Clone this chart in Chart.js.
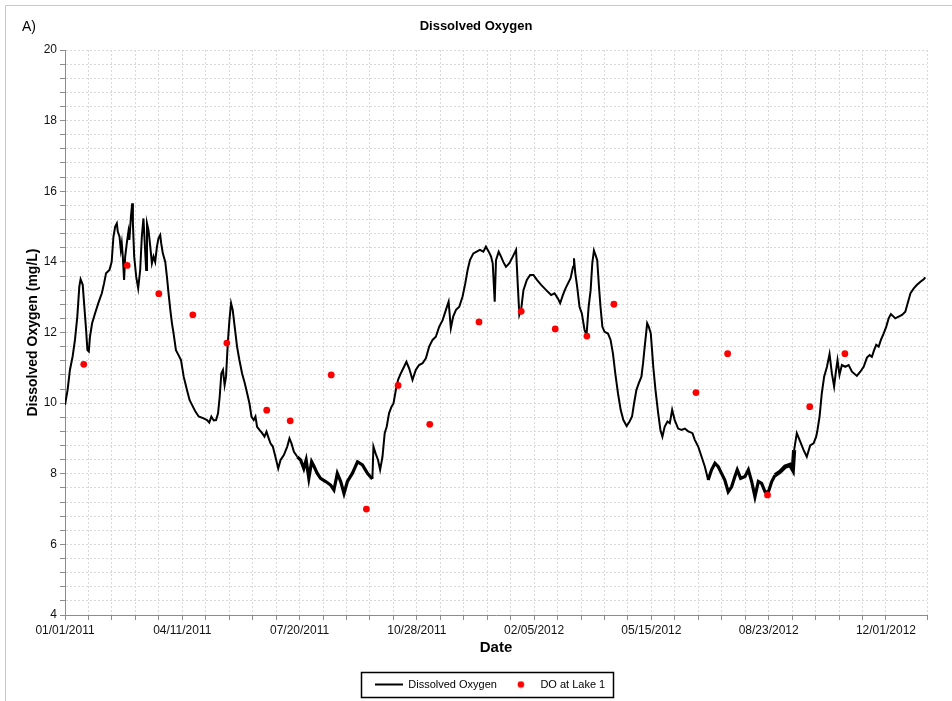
<!DOCTYPE html>
<html>
<head>
<meta charset="utf-8">
<script src="https://cdn.jsdelivr.net/npm/chart.js@4.4.0/dist/chart.umd.min.js"></script>
<style>
html,body{margin:0;padding:0;background:#fff;}
#wrap{width:952px;height:701px;position:relative;}
canvas{display:block;}
</style>
</head>
<body>
<div id="wrap"><canvas id="c" width="952" height="701"></canvas></div>
<script>
// ---- data ----
const START_DATE = Date.UTC(2011, 0, 1);   // day 0 of the x axis
// continuous logger record: day offset from 01/01/2011, dissolved oxygen (mg/L)
const lineDay = [0,2.2,4.2,6.5,8.5,10.5,12.2,13.3,15.1,16.5,18.0,19.1,20.3,21.3,23.1,25.6,28.4,31.4,33.3,35.0,37.9,39.8,41.3,42.8,44.2,45.0,46.5,47.6,48.4,49.3,50.4,51.3,52.7,54.1,54.9,56.2,57.3,57.9,59.0,60.7,62.4,64.1,65.5,66.9,68.3,69.2,69.9,71.2,72.7,74.1,75.5,76.9,78.4,79.7,81.2,82.0,83.4,85.5,86.9,88.3,89.8,91.2,92.6,94.6,96.8,98.9,101.2,104.0,106.2,108.3,111.2,114.0,118.2,121.1,123.0,124.8,126.8,128.8,130.5,131.9,133.3,134.7,136.1,137.3,138.8,140.2,141.6,143.0,144.7,146.7,148.7,151.0,153.3,155.3,157.3,159.0,160.9,162.4,163.8,165.8,168.1,170.1,171.8,173.2,175.2,177.2,179.4,181.8,183.8,186.6,189.5,191.4,193.1,195.2,198.1,200.9,203.6,205.6,207.9,210.3,212.2,215.1,217.9,222.3,226.5,229.3,232.2,235.1,237.9,240.8,245.0,249.4,253.6,257.9,262.1,263.0,264.9,266.9,268.7,270.7,272.6,274.3,276.3,278.4,280.1,282.1,284.0,286.3,289.1,291.1,293.5,296.3,299.1,301.9,304.9,307.7,310.5,313.4,316.2,319.0,322.0,324.8,327.1,329.0,331.0,333.4,336.2,339.0,341.3,343.3,345.3,348.2,351.0,353.8,356.7,358.9,361.3,363.3,364.7,366.4,367.5,369.8,371.8,373.7,376.0,378.9,381.8,384.6,386.0,387.4,388.9,390.9,393.8,396.6,399.4,402.4,406.0,410.3,414.5,417.4,420.3,422.2,424.5,426.8,431.1,433.2,434.0,435.1,436.7,438.7,440.7,443.0,444.7,446.5,448.2,449.6,451.0,452.4,453.8,455.3,456.6,458.2,460.1,463.0,465.2,467.2,469.2,471.5,473.8,476.1,478.9,481.4,483.5,485.2,487.2,489.2,491.5,492.9,494.3,496.4,497.8,499.5,501.6,503.5,505.8,507.7,509.4,511.3,513.7,515.7,517.7,519.9,522.8,525.7,528.5,531.4,535.0,537.0,539.9,542.8,545.6,548.4,551.3,554.2,557.0,559.8,562.6,565.5,568.4,571.2,573.2,576.1,579.8,582.7,585.5,588.3,591.2,594.0,596.9,599.8,602.6,605.4,609.8,614.0,618.2,620.6,621.7,624.0,626.9,629.8,632.5,635.4,638.3,640.5,641.6,643.4,645.3,647.3,649.7,651.9,653.9,655.8,657.5,658.7,660.4,662.4,665.3,668.2,671.0,675.2,678.1,681.0,683.8,686.1,688.0,689.9,691.7,693.8,695.7,698.0,700.2,702.3,704.2,705.9,707.9,710.8,713.7,716.5,718.5,720.9,723.7,726.5,729.4,732.2,733.6];
const lineDO = [9.95,10.37,10.94,11.32,11.79,12.45,13.3,13.51,13.35,12.73,12.07,11.5,11.46,11.88,12.26,12.54,12.83,13.11,13.39,13.68,13.77,14.0,14.71,15.0,15.09,14.86,14.71,14.34,14.53,14.15,13.49,14.15,14.53,14.86,14.62,15.28,15.66,15.09,14.15,13.58,13.25,13.77,14.71,15.23,14.34,13.77,15.09,14.9,14.43,13.96,14.15,14.0,14.43,14.67,14.76,14.53,14.24,14.0,13.58,13.11,12.64,12.26,11.97,11.5,11.36,11.22,10.75,10.37,10.09,9.95,9.76,9.62,9.57,9.52,9.45,9.62,9.51,9.52,9.71,10.18,10.84,10.94,10.51,10.75,11.69,12.35,12.83,12.64,12.16,11.6,11.22,10.84,10.56,10.28,9.99,9.62,9.52,9.62,9.33,9.24,9.15,9.05,9.19,9.05,8.86,8.77,8.48,8.15,8.39,8.53,8.77,9.0,8.86,8.62,8.48,8.39,8.15,8.39,7.87,8.34,8.22,8.01,7.87,7.78,7.68,7.54,8.01,7.78,7.44,7.78,8.01,8.34,8.25,8.01,7.85,8.77,8.57,8.39,8.11,8.48,9.15,9.33,9.71,9.9,9.99,10.37,10.66,10.84,11.03,11.17,10.98,10.66,10.94,11.08,11.13,11.27,11.6,11.79,11.88,12.16,12.35,12.64,12.87,12.12,12.45,12.64,12.73,13.02,13.39,13.77,14.05,14.24,14.29,14.34,14.29,14.43,14.29,14.15,13.96,12.87,14.05,14.29,14.15,14.0,13.86,13.96,14.15,14.34,13.39,12.5,12.64,13.2,13.49,13.63,13.63,13.49,13.35,13.2,13.06,13.11,12.96,12.83,13.06,13.25,13.54,13.86,14.1,13.68,13.3,12.73,12.54,12.07,11.93,12.73,13.2,13.96,14.32,14.19,14.05,13.3,12.73,12.16,12.02,11.97,11.79,11.41,10.84,10.28,9.81,9.52,9.35,9.48,9.62,9.99,10.37,10.56,10.75,11.13,11.6,12.26,12.16,11.97,11.03,10.37,9.71,9.24,9.05,9.33,9.48,9.43,9.81,9.52,9.28,9.24,9.28,9.2,9.15,8.96,8.77,8.48,8.2,7.82,8.11,8.3,8.2,8.01,7.82,7.49,7.63,7.92,8.11,7.87,7.92,8.11,7.78,7.35,7.78,7.73,7.49,7.49,7.78,7.96,8.06,8.2,8.25,8.11,8.67,9.15,8.91,8.67,8.48,8.8,8.86,9.05,9.24,9.62,10.28,10.75,11.03,11.39,10.84,10.47,10.94,11.22,10.8,11.08,11.03,11.08,10.89,10.77,10.89,11.03,11.29,11.36,11.31,11.5,11.65,11.6,11.79,11.97,12.16,12.4,12.52,12.47,12.4,12.45,12.5,12.59,12.83,13.11,13.25,13.35,13.44,13.51,13.56];
// grab samples at Lake 1: day offset from 01/01/2011, DO (mg/L)
const sampleDay = [16,53,80,109,138,172,192,227,257,284,311,353,389,418,445,468,538,565,599,635,665];
const sampleDO = [11.1,13.9,13.1,12.5,11.7,9.8,9.5,10.8,7.0,10.5,9.4,12.3,12.6,12.1,11.9,12.8,10.3,11.4,7.4,9.9,11.4];
// axes
const xMinDay = 0, xMaxDay = 735, xStepDays = 20, xLabelEveryDays = 100;
const yMin = 4, yMax = 20, yStep = 0.4, yLabelEvery = 2;
const seriesNames = ['Dissolved Oxygen', 'DO at Lake 1'];
const chartTitle = 'Dissolved Oxygen';
const panelLabel = 'A)';
const xTitle = 'Date';
const yTitle = 'Dissolved Oxygen (mg/L)';
// style: stretches where the logger trace is drawn as a thick noisy band
const noisyStretches = [{from: 196, to: 262, width: 3.2}, {from: 548, to: 603, width: 3.2}, {from: 603, to: 621, width: 4.2}];

// ---- helpers ----
function fmtDate(day) {
  const d = new Date(START_DATE + Math.round(day) * 86400000);
  const mm = String(d.getUTCMonth() + 1).padStart(2, '0');
  const dd = String(d.getUTCDate()).padStart(2, '0');
  return mm + '/' + dd + '/' + d.getUTCFullYear();
}
const FONT = "'Liberation Sans', Arial, sans-serif";
const lineData = lineDay.map((d, i) => ({x: d, y: lineDO[i]}));
const sampleData = sampleDay.map((d, i) => ({x: d, y: sampleDO[i]}));
function segWidth(ctx) {
  const x = ctx.p0.parsed.x;
  for (const s of noisyStretches) if (x >= s.from && x < s.to) return s.width;
  return 2;
}

// legend swatches
const lineSwatch = document.createElement('canvas');
lineSwatch.width = 28; lineSwatch.height = 4;
(function(){ const g = lineSwatch.getContext('2d'); g.strokeStyle = '#000'; g.lineWidth = 2; g.beginPath(); g.moveTo(0, 2); g.lineTo(28, 2); g.stroke(); })();
const dotSwatch = document.createElement('canvas');
dotSwatch.width = 28; dotSwatch.height = 8;
(function(){ const g = dotSwatch.getContext('2d'); g.fillStyle = '#ff0000'; g.beginPath(); g.arc(14, 4, 3.3, 0, Math.PI * 2); g.fill(); })();

const LEGEND_SHIFT = 14;
const decorations = {
  id: 'decorations',
  afterUpdate(chart) {
    const lg = chart.legend;
    if (!lg) return;
    lg.left += LEGEND_SHIFT; lg.right += LEGEND_SHIFT;
    (lg.legendHitBoxes || []).forEach(h => { h.left += LEGEND_SHIFT; });
  },
  beforeDraw(chart) {
    const ctx = chart.ctx;
    ctx.save();
    ctx.fillStyle = '#fff';
    ctx.fillRect(0, 0, chart.width, chart.height);
    ctx.strokeStyle = '#c8c8c8';
    ctx.lineWidth = 1;
    ctx.beginPath();
    ctx.moveTo(5.5, chart.height); ctx.lineTo(5.5, 5.5); ctx.lineTo(chart.width, 5.5);
    ctx.stroke();
    ctx.fillStyle = '#000';
    ctx.font = '14px ' + FONT;
    ctx.textBaseline = 'middle';
    ctx.fillText(panelLabel, 22, 27);
    ctx.restore();
  },
  afterDraw(chart) {
    const lg = chart.legend;
    if (!lg || !lg.legendHitBoxes || !lg.legendHitBoxes.length) return;
    let l = Infinity, r = -Infinity, t = Infinity, b = -Infinity;
    lg.legendHitBoxes.forEach(h => {
      l = Math.min(l, h.left); r = Math.max(r, h.left + h.width);
      t = Math.min(t, h.top); b = Math.max(b, h.top + h.height);
    });
    const ctx = chart.ctx;
    ctx.save();
    ctx.strokeStyle = '#000';
    ctx.lineWidth = 1.5;
    ctx.strokeRect(Math.round(l - 14) + 0.5, Math.round(t - 7) + 0.5, Math.round(r - l + 22), Math.round(b - t + 14));
    ctx.restore();
  }
};

new Chart(document.getElementById('c'), {
  type: 'scatter',
  data: {
    datasets: [
      {label: seriesNames[0], data: lineData, showLine: true, borderColor: '#000', backgroundColor: '#000',
       borderWidth: 2, pointRadius: 0, pointHoverRadius: 0, tension: 0, order: 2,
       segment: {borderWidth: segWidth}},
      {label: seriesNames[1], data: sampleData, showLine: false, borderColor: '#ff0000', backgroundColor: '#ff0000',
       pointRadius: 3.4, pointBorderWidth: 0, order: 1}
    ]
  },
  options: {
    responsive: false,
    animation: false,
    devicePixelRatio: 1,
    layout: {padding: {left: 25, right: 25, top: 0, bottom: 1}},
    plugins: {
      title: {display: true, text: chartTitle, color: '#000', font: {family: FONT, size: 13, weight: 'bold'},
              padding: {top: 19, bottom: 15.4}},
      legend: {
        position: 'bottom',
        labels: {
          usePointStyle: true, pointStyleWidth: 28, boxHeight: 8,
          font: {family: FONT, size: 11}, color: '#000', padding: 10,
          sort: (a, b) => a.datasetIndex - b.datasetIndex,
          generateLabels(chart) {
            const items = Chart.defaults.plugins.legend.labels.generateLabels(chart);
            items.forEach(it => { it.pointStyle = it.datasetIndex === 0 ? lineSwatch : dotSwatch; });
            return items;
          }
        }
      },
      tooltip: {enabled: false}
    },
    scales: {
      x: {
        type: 'linear', min: xMinDay, max: xMaxDay,
        afterFit(s) { s.height = 54; },
        ticks: {
          stepSize: xStepDays, autoSkip: false, maxRotation: 0, minRotation: 0, maxTicksLimit: 1000,
          color: '#111', font: {family: FONT, size: 12}, padding: 3,
          callback: v => (Math.abs(v % xLabelEveryDays) < 1e-6 && v <= 730) ? fmtDate(v) : ''
        },
        grid: {color: '#d9d9d9', lineWidth: 1, tickLength: 5, tickColor: '#8c8c8c', tickBorderDash: [], tickWidth: 1},
        border: {color: '#8c8c8c', width: 1, dash: [2, 2]},
        title: {display: true, text: xTitle, color: '#000', font: {family: FONT, size: 15, weight: 'bold'}, padding: {top: 12, bottom: 12}}
      },
      y: {
        type: 'linear', min: yMin, max: yMax,
        afterFit(s) { s.width = 40; },
        ticks: {
          stepSize: yStep, autoSkip: false, maxTicksLimit: 1000,
          color: '#111', font: {family: FONT, size: 12}, padding: 3,
          callback: v => (Math.abs(v / yLabelEvery - Math.round(v / yLabelEvery)) < 1e-6) ? String(Math.round(v)) : ''
        },
        grid: {color: '#d9d9d9', lineWidth: 1, tickLength: 5, tickColor: '#8c8c8c', tickBorderDash: [], tickWidth: 1},
        border: {color: '#8c8c8c', width: 1, dash: [2, 2]},
        title: {display: true, text: yTitle, color: '#000', font: {family: FONT, size: 14, weight: 'bold'}, padding: {top: 0, bottom: 0}}
      }
    }
  },
  plugins: [decorations]
});
</script>
</body>
</html>
